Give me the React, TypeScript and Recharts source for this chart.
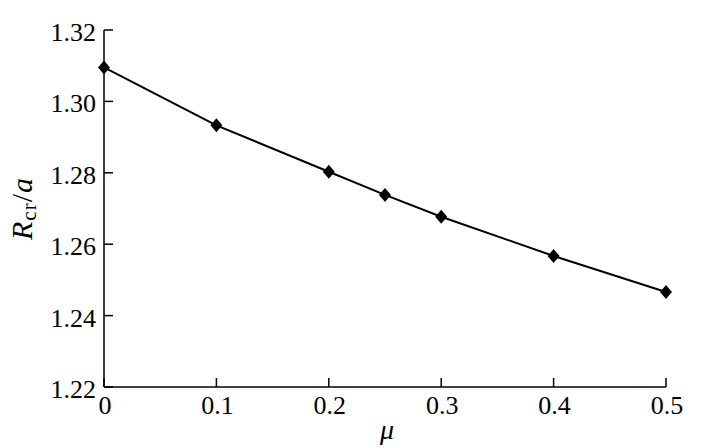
import { Line, LineChart, XAxis, YAxis } from "recharts";

const MU = [0, 0.1, 0.2, 0.25, 0.3, 0.4, 0.5];
const RATIO = [1.3095, 1.2933, 1.2803, 1.2738, 1.2677, 1.2567, 1.2466];
const X_TICKS = [0, 0.1, 0.2, 0.3, 0.4, 0.5];
const Y_TICKS = [1.22, 1.24, 1.26, 1.28, 1.3, 1.32];

const data = MU.map((mu, i) => ({ mu, ratio: RATIO[i] }));

const FONT = '"Liberation Serif", "Times New Roman", serif';
const TICK_LEN = 9;

type TickProps = { x?: number; y?: number; payload?: { value: number } };

// ticks point into the plot, labels sit outside
const renderYTick = ({ x = 0, y = 0, payload }: TickProps) => (
	<g>
		<path d={`M${x},${y}h${TICK_LEN}`} stroke="#000" strokeWidth={1.5} />
		<text x={x - 8} y={y + 11} textAnchor="end" fontFamily={FONT} fontSize={26} fill="#000">
			{payload ? payload.value.toFixed(2) : ""}
		</text>
	</g>
);

const renderXTick = ({ x = 0, y = 0, payload }: TickProps) => {
	const v = payload ? payload.value : 0;
	return (
		<g>
			<path d={`M${x},${y}v${-TICK_LEN}`} stroke="#000" strokeWidth={1.5} />
			<text x={x + 1} y={y + 27} textAnchor="middle" fontFamily={FONT} fontSize={26} fill="#000">
				{v === 0 ? "0" : v.toFixed(1)}
			</text>
		</g>
	);
};

function Diamond(props: { cx?: number; cy?: number }) {
	const { cx, cy } = props;
	if (cx == null || cy == null) return null;
	return <path d={`M${cx},${cy - 7}L${cx + 6},${cy}L${cx},${cy + 7}L${cx - 6},${cy}Z`} fill="#000" />;
}

type VB = { viewBox?: { x: number; y: number; width: number; height: number } };

function YLabel({ viewBox }: VB) {
	if (!viewBox) return null;
	const x = 32;
	const y = viewBox.y + viewBox.height / 2;
	return (
		<text
			x={x}
			y={y}
			transform={`rotate(-90, ${x}, ${y})`}
			textAnchor="middle"
			fontFamily={FONT}
			fontSize={30}
			letterSpacing={1}
			fill="#000"
		>
			<tspan fontStyle="italic">R</tspan>
			<tspan fontSize={21} dy={4}>
				cr
			</tspan>
			<tspan dy={-4}>/</tspan>
			<tspan fontStyle="italic">a</tspan>
		</text>
	);
}

function XLabel({ viewBox }: VB) {
	if (!viewBox) return null;
	return (
		<text
			x={viewBox.x + viewBox.width / 2 + 2}
			y={viewBox.y + 52}
			textAnchor="middle"
			fontFamily={FONT}
			fontSize={28}
			fontStyle="italic"
			fill="#000"
		>
			μ
		</text>
	);
}

export default function App() {
	return (
		<div style={{ position: "absolute", left: 0, top: 0, background: "#fff" }}>
			<LineChart width={715} height={448} data={data} margin={{ top: 30, right: 49, bottom: 31, left: 24 }}>
				<XAxis
					dataKey="mu"
					type="number"
					domain={[0, 0.5]}
					ticks={X_TICKS}
					height={30}
					stroke="#000"
					strokeWidth={1.5}
					tickLine={false}
					tickSize={0}
					tickMargin={0}
					tick={renderXTick}
					label={<XLabel />}
				/>
				<YAxis
					type="number"
					domain={[1.22, 1.32]}
					ticks={Y_TICKS}
					width={80}
					stroke="#000"
					strokeWidth={1.5}
					tickLine={false}
					tickSize={0}
					tickMargin={0}
					tick={renderYTick}
					label={<YLabel />}
				/>
				<Line
					dataKey="ratio"
					type="linear"
					stroke="#000"
					strokeWidth={2}
					dot={(p: any) => <Diamond key={`dot-${p.index}`} cx={p.cx} cy={p.cy} />}
					activeDot={false}
					isAnimationActive={false}
				/>
			</LineChart>
		</div>
	);
}
